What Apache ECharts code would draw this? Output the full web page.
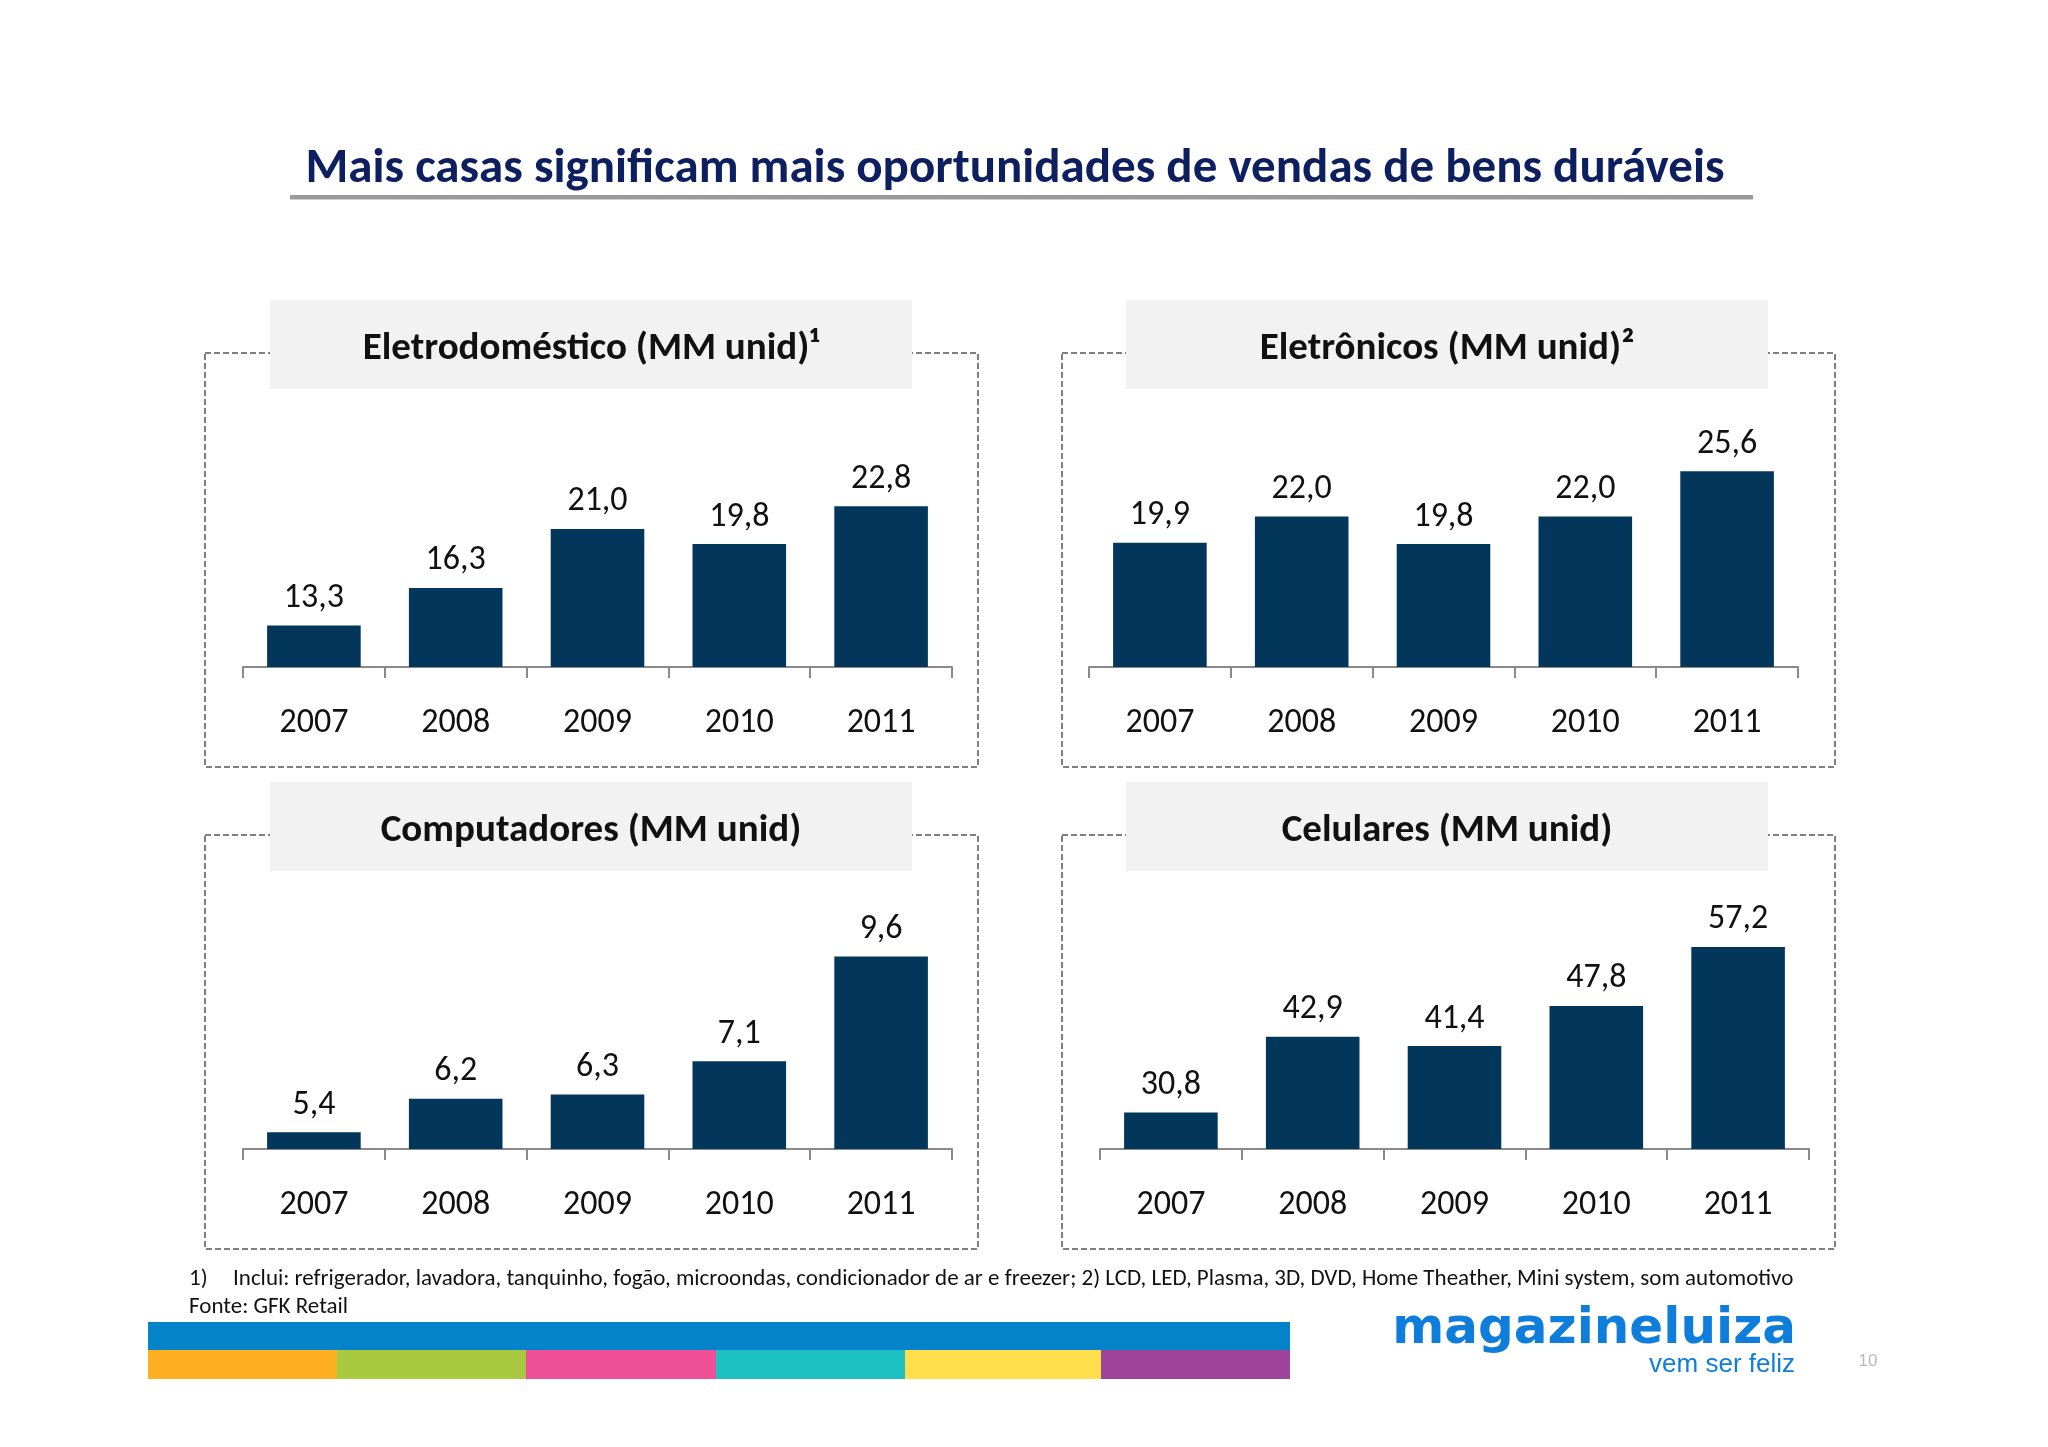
<!DOCTYPE html>
<html>
<head>
<meta charset="utf-8">
<script src="https://cdn.jsdelivr.net/npm/echarts@6/dist/echarts.min.js"></script>
<style>
html,body{margin:0;padding:0;background:#fff;}
#c{width:2048px;height:1447px;}
</style>
</head>
<body>
<div id="c"></div>
<script>
const years = ['2007', '2008', '2009', '2010', '2011'];
const eletrodomestico = [13.3, 16.3, 21.0, 19.8, 22.8];
const eletronicos = [19.9, 22.0, 19.8, 22.0, 25.6];
const computadores = [5.4, 6.2, 6.3, 7.1, 9.6];
const celulares = [30.8, 42.9, 41.4, 47.8, 57.2];
const panelTitles = ['Eletrodoméstico (MM unid)¹', 'Eletrônicos (MM unid)²', 'Computadores (MM unid)', 'Celulares (MM unid)'];
const mainTitle = 'Mais casas significam mais oportunidades de vendas de bens duráveis';
const footnote1 = 'Inclui: refrigerador, lavadora, tanquinho, fogão, microondas, condicionador de ar e freezer; 2) LCD, LED, Plasma, 3D, DVD, Home Theather, Mini system, som automotivo';
const footnote2 = 'Fonte: GFK Retail';

const FONT = 'Carlito, Lato, "Open Sans", sans-serif';
const BAR = '#02375b';
const AXIS = '#8a8a8a';

const chart = echarts.init(document.getElementById('c'), null, {renderer: 'canvas'});

const grids = [
  {left: 243, top: 416, width: 709, height: 251},
  {left: 1089, top: 416, width: 709, height: 251},
  {left: 243, top: 898, width: 709, height: 251},
  {left: 1100, top: 898, width: 709, height: 251}
];
const yRanges = [[10, 30], [10, 30], [5, 11], [25, 65]];
const seriesData = [eletrodomestico, eletronicos, computadores, celulares];

const fmt = v => v.toFixed(1).replace('.', ',');

const xAxes = grids.map((g, i) => ({
  type: 'category', gridIndex: i, data: years,
  axisLine: {show: true, lineStyle: {color: AXIS, width: 2}},
  axisTick: {show: true, length: 11, lineStyle: {color: AXIS, width: 2}},
  axisLabel: {fontFamily: FONT, fontSize: 34, color: '#111', margin: 39}
}));
const yAxes = grids.map((g, i) => ({
  type: 'value', gridIndex: i, min: yRanges[i][0], max: yRanges[i][1], show: false,
  splitLine: {show: false}
}));
const series = seriesData.map((d, i) => ({
  type: 'bar', xAxisIndex: i, yAxisIndex: i, data: d,
  barCategoryGap: '34%',
  itemStyle: {color: BAR},
  label: {show: true, position: 'top', distance: 10, fontFamily: FONT, fontSize: 34, color: '#111',
    formatter: p => fmt(p.value)},
  silent: true, animation: false
}));

// panel boxes
const boxes = [
  {x: 205, y: 353, w: 773, h: 414, tx: 270, ty: 300, tw: 642, th: 89},
  {x: 1062, y: 353, w: 773, h: 414, tx: 1126, ty: 300, tw: 642, th: 89},
  {x: 205, y: 835, w: 773, h: 414, tx: 270, ty: 782, tw: 642, th: 89},
  {x: 1062, y: 835, w: 773, h: 414, tx: 1126, ty: 782, tw: 642, th: 89}
];
const graphics = [];
boxes.forEach((b, i) => {
  graphics.push({type: 'rect', z: 0, shape: {x: b.x, y: b.y, width: b.w, height: b.h},
    style: {fill: 'none', stroke: '#7f7f7f', lineWidth: 2, lineDash: [6, 3]}});
  graphics.push({type: 'rect', z: 1, shape: {x: b.tx, y: b.ty, width: b.tw, height: b.th},
    style: {fill: '#f2f2f2'}});
  graphics.push({type: 'text', z: 2, x: b.tx + b.tw / 2, y: b.ty + b.th / 2 + 5,
    style: {text: panelTitles[i], fill: '#111', fontFamily: FONT, fontWeight: 'bold', fontSize: 39,
      textAlign: 'center', textVerticalAlign: 'middle'}});
});
// main title
graphics.push({type: 'text', z: 2, x: 1015, y: 170,
  style: {text: mainTitle, fill: '#0d1f5e', fontFamily: FONT, fontWeight: 'bold', fontSize: 49,
    textAlign: 'center', textVerticalAlign: 'middle'}});
graphics.push({type: 'rect', z: 1, shape: {x: 290, y: 195, width: 1463, height: 4}, style: {fill: '#9a9a9a'}});
graphics.push({type: 'rect', z: 1, shape: {x: 290, y: 199, width: 1463, height: 1}, style: {fill: '#d0d0d0'}});
// footnotes
graphics.push({type: 'text', z: 2, x: 189, y: 1279,
  style: {text: '1)', fill: '#111', fontFamily: FONT, fontSize: 23, textAlign: 'left', textVerticalAlign: 'middle'}});
graphics.push({type: 'text', z: 2, x: 233, y: 1279,
  style: {text: footnote1, fill: '#111', fontFamily: FONT, fontSize: 23, textAlign: 'left', textVerticalAlign: 'middle'}});
graphics.push({type: 'text', z: 2, x: 189, y: 1307,
  style: {text: footnote2, fill: '#111', fontFamily: FONT, fontSize: 23, textAlign: 'left', textVerticalAlign: 'middle'}});
// colour bands
graphics.push({type: 'rect', z: 1, shape: {x: 148, y: 1322, width: 1142, height: 28}, style: {fill: '#0483cb'}});
const bandColors = ['#fcb022', '#a9c940', '#ef4f96', '#1dc0c1', '#fede4a', '#9d4399'];
const bandEdges = [148, 337, 526, 716, 905, 1101, 1290];
bandColors.forEach((c, i) => {
  graphics.push({type: 'rect', z: 1, shape: {x: bandEdges[i], y: 1350, width: bandEdges[i + 1] - bandEdges[i], height: 29},
    style: {fill: c}});
});
// logo
graphics.push({type: 'text', z: 2, x: 1796, y: 1330,
  style: {text: 'magazineluiza', fill: '#0e7ddb', fontFamily: '"DejaVu Sans", sans-serif', fontWeight: 'bold', fontSize: 50,
    textAlign: 'right', textVerticalAlign: 'middle'}});
graphics.push({type: 'text', z: 2, x: 1795, y: 1365,
  style: {text: 'vem ser feliz', fill: '#0e7ddb', fontFamily: '"Liberation Sans", sans-serif', fontSize: 26,
    textAlign: 'right', textVerticalAlign: 'middle'}});
graphics.push({type: 'text', z: 2, x: 1868, y: 1361,
  style: {text: '10', fill: '#b8b8b8', fontFamily: '"Liberation Sans", sans-serif', fontSize: 17,
    textAlign: 'center', textVerticalAlign: 'middle'}});

chart.setOption({
  animation: false,
  backgroundColor: '#ffffff',
  grid: grids,
  xAxis: xAxes,
  yAxis: yAxes,
  series: series,
  graphic: {elements: graphics}
});
</script>
</body>
</html>
